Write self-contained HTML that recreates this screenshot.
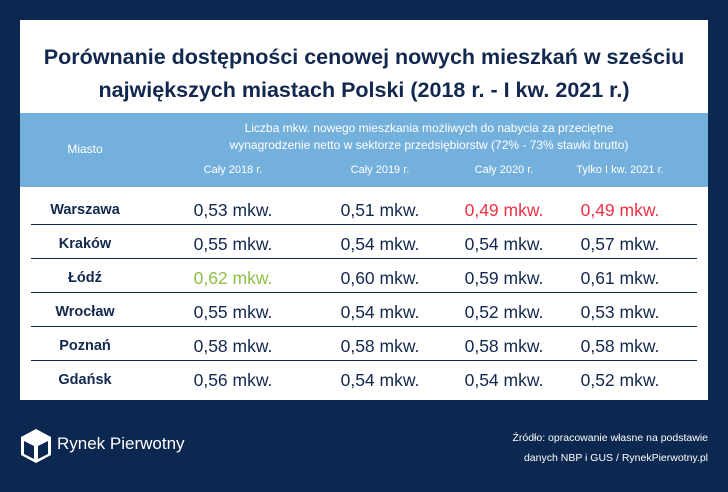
<!DOCTYPE html>
<html><head><meta charset="utf-8"><style>
body{margin:0;width:728px;height:492px;background:#0d2850;font-family:"Liberation Sans",sans-serif;position:relative;overflow:hidden}
.panel{position:absolute;left:20px;top:20px;width:688px;height:380px;background:#fff}
.title{position:absolute;left:0;top:21px;width:688px;text-align:center;color:#12284e;font-weight:bold;font-size:21.5px;line-height:33px}
.head{position:absolute;left:0;top:93px;width:688px;height:74px;background:#74b0dc;color:#fff}
.t{position:absolute;text-align:center;white-space:nowrap}
.row{position:absolute;left:0;width:688px;height:34px;color:#12284e}
.row .t{top:8px;font-size:17.5px}
.row .c0{font-size:14.5px;font-weight:bold;top:10px}
.line{position:absolute;left:11px;width:666px;height:1px;background:#12284e}
.red{color:#ee3046}.grn{color:#8dc043}
</style></head><body>
<div class="panel">
<div class="title">Porównanie dostępności cenowej nowych mieszkań w sześciu<br>największych miastach Polski (2018 r. - I kw. 2021 r.)</div>
<div class="head">
<div class="t" style="left:0;width:130px;top:29px;font-size:12px">Miasto</div>
<div class="t" style="left:130px;width:558px;top:7px;font-size:12px;line-height:17px">Liczba mkw. nowego mieszkania możliwych do nabycia za przeciętne<br>wynagrodzenie netto w sektorze przedsiębiorstw (72% - 73% stawki brutto)</div>
<div class="t" style="left:153px;width:120px;top:51px;font-size:11px">Cały 2018 r.</div>
<div class="t" style="left:300px;width:120px;top:51px;font-size:11px">Cały 2019 r.</div>
<div class="t" style="left:424px;width:120px;top:51px;font-size:11px">Cały 2020 r.</div>
<div class="t" style="left:540px;width:120px;top:51px;font-size:11px">Tylko I kw. 2021 r.</div>
</div>
<div class="row" style="top:172px"><div class="t c0" style="left:0;width:130px">Warszawa</div><div class="t" style="left:153px;width:120px">0,53 mkw.</div><div class="t" style="left:300px;width:120px">0,51 mkw.</div><div class="t red" style="left:424px;width:120px">0,49 mkw.</div><div class="t red" style="left:540px;width:120px">0,49 mkw.</div></div>
<div class="line" style="top:204px"></div>
<div class="row" style="top:206px"><div class="t c0" style="left:0;width:130px">Kraków</div><div class="t" style="left:153px;width:120px">0,55 mkw.</div><div class="t" style="left:300px;width:120px">0,54 mkw.</div><div class="t" style="left:424px;width:120px">0,54 mkw.</div><div class="t" style="left:540px;width:120px">0,57 mkw.</div></div>
<div class="line" style="top:238px"></div>
<div class="row" style="top:240px"><div class="t c0" style="left:0;width:130px">Łódź</div><div class="t grn" style="left:153px;width:120px">0,62 mkw.</div><div class="t" style="left:300px;width:120px">0,60 mkw.</div><div class="t" style="left:424px;width:120px">0,59 mkw.</div><div class="t" style="left:540px;width:120px">0,61 mkw.</div></div>
<div class="line" style="top:272px"></div>
<div class="row" style="top:274px"><div class="t c0" style="left:0;width:130px">Wrocław</div><div class="t" style="left:153px;width:120px">0,55 mkw.</div><div class="t" style="left:300px;width:120px">0,54 mkw.</div><div class="t" style="left:424px;width:120px">0,52 mkw.</div><div class="t" style="left:540px;width:120px">0,53 mkw.</div></div>
<div class="line" style="top:306px"></div>
<div class="row" style="top:308px"><div class="t c0" style="left:0;width:130px">Poznań</div><div class="t" style="left:153px;width:120px">0,58 mkw.</div><div class="t" style="left:300px;width:120px">0,58 mkw.</div><div class="t" style="left:424px;width:120px">0,58 mkw.</div><div class="t" style="left:540px;width:120px">0,58 mkw.</div></div>
<div class="line" style="top:340px"></div>
<div class="row" style="top:342px"><div class="t c0" style="left:0;width:130px">Gdańsk</div><div class="t" style="left:153px;width:120px">0,56 mkw.</div><div class="t" style="left:300px;width:120px">0,54 mkw.</div><div class="t" style="left:424px;width:120px">0,54 mkw.</div><div class="t" style="left:540px;width:120px">0,52 mkw.</div></div>
</div>
<svg style="position:absolute;left:19px;top:428px" width="34" height="36" viewBox="0 0 34 36"><polygon points="17,1 32,9 32,27 17,35 2,27 2,9" fill="#fff"/><polygon points="5,13 15,18 15,31 5,26" fill="#0d2850"/><polygon points="19,18 29,13 29,26 19,31" fill="#0d2850"/></svg>
<div style="position:absolute;left:57px;top:434px;color:#fff;font-size:17px">Rynek Pierwotny</div>
<div style="position:absolute;right:20px;top:428px;color:#fff;font-size:10.5px;text-align:right;line-height:20px">Źródło: opracowanie własne na podstawie<br>danych NBP i GUS / RynekPierwotny.pl</div>
</body></html>
